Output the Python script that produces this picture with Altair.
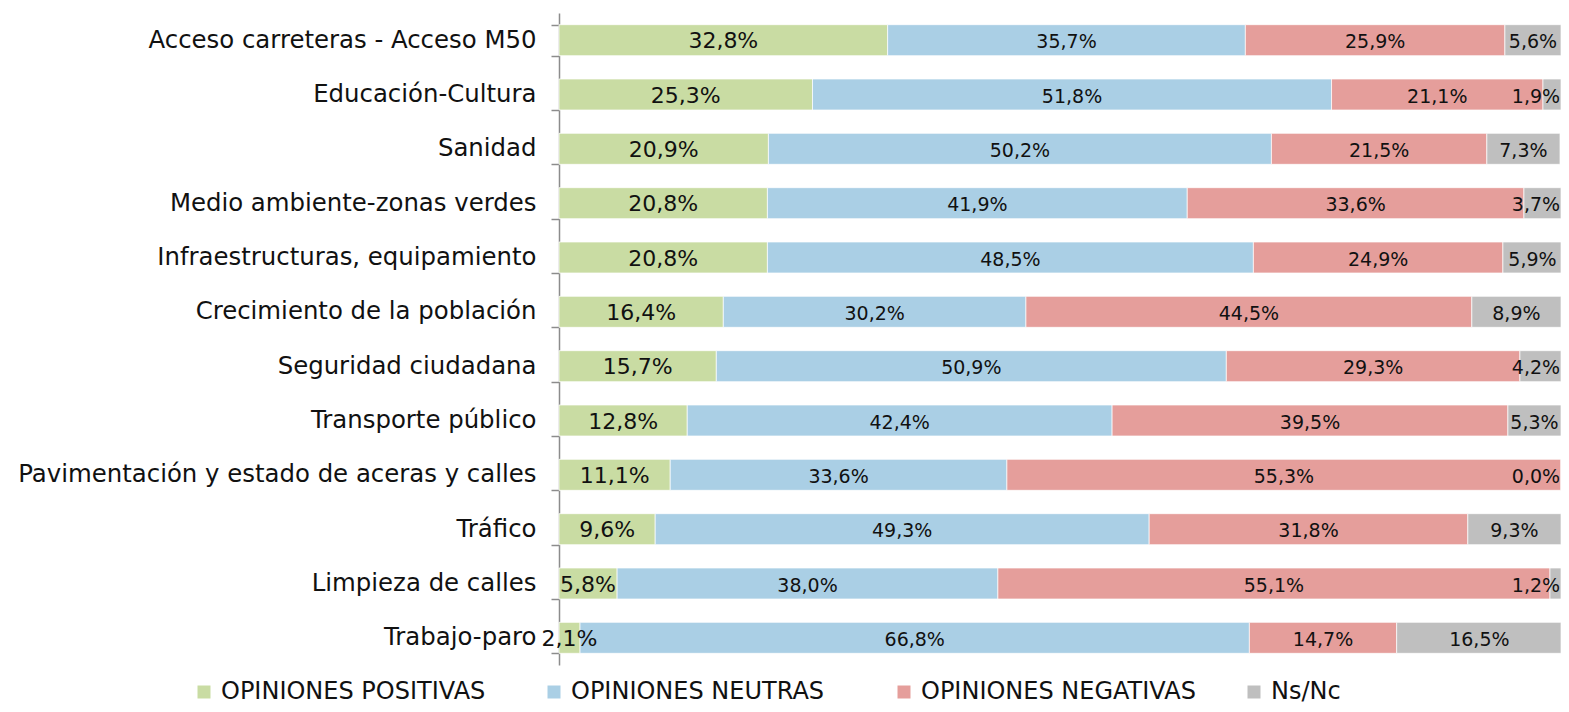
import altair as alt
import pandas as pd

categories = [
    "Acceso carreteras - Acceso M50",
    "Educación-Cultura",
    "Sanidad",
    "Medio ambiente-zonas verdes",
    "Infraestructuras, equipamiento",
    "Crecimiento de la población",
    "Seguridad ciudadana",
    "Transporte público",
    "Pavimentación y estado de aceras y calles",
    "Tráfico",
    "Limpieza de calles",
    "Trabajo-paro",
]
series = ["OPINIONES POSITIVAS", "OPINIONES NEUTRAS", "OPINIONES NEGATIVAS", "Ns/Nc"]
positivas = [32.8, 25.3, 20.9, 20.8, 20.8, 16.4, 15.7, 12.8, 11.1, 9.6, 5.8, 2.1]
neutras = [35.7, 51.8, 50.2, 41.9, 48.5, 30.2, 50.9, 42.4, 33.6, 49.3, 38.0, 66.8]
negativas = [25.9, 21.1, 21.5, 33.6, 24.9, 44.5, 29.3, 39.5, 55.3, 31.8, 55.1, 14.7]
nsnc = [5.6, 1.9, 7.3, 3.7, 5.9, 8.9, 4.2, 5.3, 0.0, 9.3, 1.2, 16.5]
colors = ["#C9DCA3", "#AACFE5", "#E59E9B", "#BFBFBF"]

rows = []
for vals, s, o in zip([positivas, neutras, negativas, nsnc], series, range(4)):
    for c, v in zip(categories, vals):
        rows.append({"cat": c, "serie": s, "order": o, "value": v,
                     "label": f"{v:.1f}%".replace(".", ",")})
df = pd.DataFrame(rows)

FONT = "DejaVu Sans"

base = alt.Chart(df).transform_stack(
    stack="value", as_=["start", "end"], groupby=["cat"], sort=[{"field": "order"}]
).transform_calculate(
    mid="min((datum.start + datum.end) / 2, 97.5)"
)

y_enc = alt.Y("cat:N", sort=categories, title=None,
              scale=alt.Scale(paddingInner=0.43, paddingOuter=0.215),
              axis=alt.Axis(tickBand="extent", domainColor="#8c8c8c", tickColor="#8c8c8c",
                            domainWidth=1.5, tickWidth=1.5, tickSize=8, labelPadding=15,
                            labelFont=FONT, labelFontSize=24.4, labelColor="#111",
                            labelLimit=800))

bars = base.mark_bar(stroke="white", strokeWidth=0.7).encode(
    y=y_enc,
    x=alt.X("start:Q", scale=alt.Scale(domain=[0, 100], clamp=True), axis=None),
    x2="end:Q",
    color=alt.Color("serie:N", sort=series,
                    scale=alt.Scale(domain=series, range=colors),
                    legend=alt.Legend(title=None, orient="none", direction="horizontal",
                                      legendX=-367, legendY=667, columns=4,
                                      gridAlign="all", columnPadding=46,
                                      symbolType="square", symbolSize=169,
                                      symbolStrokeWidth=0, symbolOffset=0,
                                      labelFont=FONT, labelFontSize=24,
                                      labelColor="#111", labelOffset=5, padding=0,
                                      labelLimit=500)),
    order=alt.Order("order:Q"),
)

txt_pos = base.transform_filter("datum.order == 0").mark_text(
    font=FONT, fontSize=22, color="#111", baseline="middle", align="center", dy=1
).encode(y=alt.Y("cat:N", sort=categories), x="mid:Q", text="label:N")

txt_oth = base.transform_filter("datum.order > 0").mark_text(
    font=FONT, fontSize=19, color="#111", baseline="middle", align="center", dy=2
).encode(y=alt.Y("cat:N", sort=categories), x="mid:Q", text="label:N")

chart = alt.layer(bars, txt_pos, txt_oth).properties(
    width=1002, height=652,
    autosize=alt.AutoSizeParams(type="none"),
    padding={"left": 551, "top": 5, "right": 0, "bottom": 39},
).configure_view(stroke=None)

chart.save("out.html", embed_options={"renderer": "svg", "actions": False})
